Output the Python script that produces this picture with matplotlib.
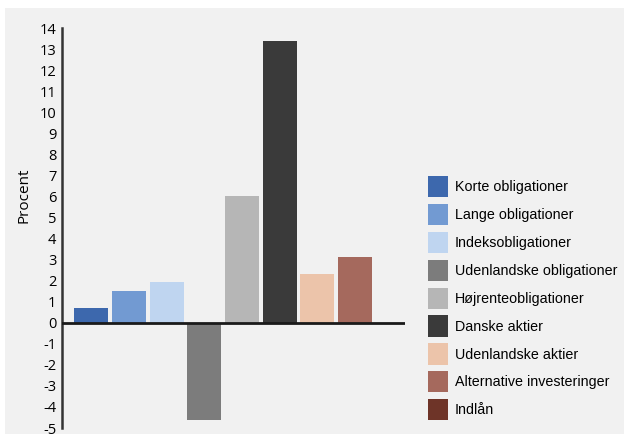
import matplotlib
matplotlib.use('Agg')
import matplotlib.pyplot as plt
from matplotlib.patches import Patch, Rectangle

# categories and values
categories = ['Korte obligationer', 'Lange obligationer', 'Indeksobligationer',
              'Udenlandske obligationer', 'Højrenteobligationer', 'Danske aktier',
              'Udenlandske aktier', 'Alternative investeringer', 'Indlån']
values = [0.7, 1.5, 1.95, -4.6, 6.0, 13.4, 2.3, 3.1, 0.0]
colors = ['#3d68ad', '#729ad2', '#bfd5f0', '#7c7c7c', '#b6b6b6',
          '#3a3a3a', '#ecc4aa', '#a5695d', '#6e3428']
yticks = list(range(-5, 15))

plt.rcParams['font.family'] = ['Open Sans', 'DejaVu Sans']

fig = plt.figure(figsize=(6.24, 4.34), dpi=100)
fig.patch.set_facecolor('white')
# light grey panel behind the chart
fig.patches.append(Rectangle((5 / 624, 0), 1, 1 - 8 / 434, transform=fig.transFigure,
                             facecolor='#f1f1f1', edgecolor='none', zorder=-10))

ax = fig.add_axes([62 / 624, 6 / 434, (405 - 62) / 624, (428 - 28) / 434])
ax.patch.set_visible(False)

x = list(range(len(values)))
ax.bar(x, values, width=0.9, color=colors, zorder=2)
ax.axhline(0, color='#1a1a1a', lw=2, zorder=3)

ax.set_xlim(-0.77, 8.32)
ax.set_ylim(-5, 14)
ax.set_yticks(yticks)
ax.set_yticklabels([str(t) for t in yticks], fontsize=10.5)
ax.tick_params(axis='y', length=0, pad=4)
ax.set_xticks([])
for s in ['top', 'right', 'bottom']:
    ax.spines[s].set_visible(False)
ax.spines['left'].set_color('#333333')
ax.spines['left'].set_linewidth(1.8)

fig.text(24 / 624, 1 - 195 / 434, 'Procent', rotation=90, ha='center', va='center',
         fontsize=11)

handles = [Patch(facecolor=c, edgecolor='none') for c in colors]
fig.legend(handles, categories, loc='upper left',
           bbox_to_anchor=(428 / 624, 1 - 176 / 434), frameon=False,
           borderpad=0, borderaxespad=0,
           handlelength=1.39, handleheight=1.9,
           labelspacing=0.47, handletextpad=0.48,
           prop={'family': ['Liberation Sans', 'DejaVu Sans'], 'size': 10.3})

fig.savefig('out.png', dpi=100, facecolor=fig.get_facecolor())
